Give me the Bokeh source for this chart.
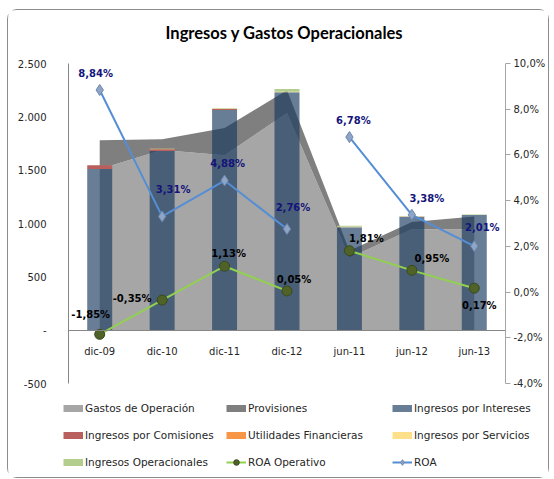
from bokeh.plotting import figure
from bokeh.layouts import column
from bokeh.models import (ColumnDataSource, Range1d, LinearAxis, FixedTicker,
                          Legend, LegendItem, Label)
from bokeh.core.properties import value
from bokeh.embed import file_html
from bokeh.resources import INLINE

# ---------------- data ----------------
categories = ["dic-09", "dic-10", "dic-11", "dic-12", "jun-11", "jun-12", "jun-13"]
gastos_operacion = [1510, 1690, 1640, 2035, 680, 945, 945]
provisiones = [270, 100, 255, 215, 65, 70, 120]
ingresos_intereses = [1510, 1680, 2065, 2230, 965, 1065, 1080]
ingresos_comisiones = [35, 15, 8, 0, 0, 0, 0]
utilidades_financieras = [0, 0, 0, 0, 0, 0, 0]
ingresos_servicios = [0, 5, 5, 5, 5, 5, 0]
ingresos_operacionales = [0, 0, 5, 25, 10, 0, 5]
roa_operativo = [-1.85, -0.35, 1.13, 0.05, 1.81, 0.95, 0.17]
roa = [8.84, 3.31, 4.88, 2.76, 6.78, 3.38, 2.01]
segments = [(0, 4), (4, 7)]  # the two periods (annual / semester) are not joined

left_ticks = [-500, 0, 500, 1000, 1500, 2000, 2500]
left_tick_labels = ["-500", "-", "500", "1.000", "1.500", "2.000", "2.500"]
right_ticks = [-4, -2, 0, 2, 4, 6, 8, 10]
right_tick_labels = ["-4,0%", "-2,0%", "0,0%", "2,0%", "4,0%", "6,0%", "8,0%", "10,0%"]

title_text = "Ingresos y Gastos Operacionales"
FONT = "DejaVu Sans"
TXT = "#262626"

# label offsets (screen px)
roa_dx = [-4, 11, 3, 6, 4, 15, 8]
roa_dy = [-17, -27, -17, -21, -17, -16, -19]
rop_dx = [-9, -30, 4, 7, 17, 20, 5]
rop_dy = [-20, -2, -13, -11, -12, -12, 17]


def pct(v):
    return f"{v:.2f}".replace(".", ",") + "%"


xs = list(range(len(categories)))
n = len(categories)
W = 540

# ---------------- title strip ----------------
tf = figure(width=W, height=40, x_range=Range1d(0, W), y_range=Range1d(0, 40),
            x_axis_type=None, y_axis_type=None,
            min_border_left=0, min_border_right=0, min_border_top=0, min_border_bottom=0,
            output_backend="svg", toolbar_location=None)
tf.outline_line_color = None
tf.grid.visible = False
tf.frame_align = False
tf.add_layout(Label(x=276, y=18, text=title_text, text_align="center", text_baseline="middle",
                    text_font="Lato", text_font_size="16.5px", text_font_style="bold",
                    text_color="#000000"))

# ---------------- main chart ----------------
p = figure(x_range=Range1d(-0.5, n - 0.5), y_range=Range1d(left_ticks[0], left_ticks[-1]),
           width=W, height=342,
           min_border_left=60, min_border_right=42, min_border_top=13, min_border_bottom=9,
           output_backend="svg", toolbar_location=None)
p.frame_align = False
p.extra_y_ranges = {"pct": Range1d(right_ticks[0], right_ticks[-1])}
p.outline_line_color = None
p.grid.visible = False
p.background_fill_color = "white"

src = ColumnDataSource(dict(x=xs, gastos=gastos_operacion, prov=provisiones,
                            intereses=ingresos_intereses, comisiones=ingresos_comisiones,
                            utilidades=utilidades_financieras, servicios=ingresos_servicios,
                            operacionales=ingresos_operacionales))

area_colors = ["#A6A6A6", "#7F7F7F"]
p.varea_stack(["gastos", "prov"], x="x", fill_color=area_colors, source=src)

bar_colors = ["#17375E", "#B9605E", "#F79646", "#FFE08A", "#B3CD8D"]
bar_alpha = [0.65, 1, 1, 1, 1]
p.vbar_stack(["intereses", "comisiones", "utilidades", "servicios", "operacionales"],
             x="x", width=0.4, fill_color=bar_colors, fill_alpha=bar_alpha,
             line_color=None, source=src)

ROA_LINE = "#558ED5"
ROP_LINE = "#92D050"
ROP_M = dict(marker="circle", size=10, fill_color="#4F6228", line_color="#3A4A1B", line_width=1)
ROA_M = dict(marker="diamond", size=11, fill_color="#8EA5C8", line_color="#6C86AA", line_width=1)
for a, b in segments:
    s = ColumnDataSource(dict(x=xs[a:b], roa=roa[a:b], rop=roa_operativo[a:b]))
    p.line("x", "rop", source=s, y_range_name="pct", line_color=ROP_LINE, line_width=2)
    p.line("x", "roa", source=s, y_range_name="pct", line_color=ROA_LINE, line_width=2)

msrc = ColumnDataSource(dict(x=xs, roa=roa, rop=roa_operativo))
p.scatter("x", "rop", source=msrc, y_range_name="pct", **ROP_M)
p.scatter("x", "roa", source=msrc, y_range_name="pct", **ROA_M)

lsrc = ColumnDataSource(dict(x=xs, roa=roa, rop=roa_operativo,
                             roa_t=[pct(v) for v in roa], rop_t=[pct(v) for v in roa_operativo],
                             roa_dx=roa_dx, roa_dy=roa_dy, rop_dx=rop_dx, rop_dy=rop_dy))
p.text("x", "roa", text="roa_t", source=lsrc, y_range_name="pct", x_offset="roa_dx", y_offset="roa_dy",
       text_align="center", text_baseline="middle", text_font=value(FONT), text_font_style="bold",
       text_font_size=value("10px"), text_color="#14147A")
p.text("x", "rop", text="rop_t", source=lsrc, y_range_name="pct", x_offset="rop_dx", y_offset="rop_dy",
       text_align="center", text_baseline="middle", text_font=value(FONT), text_font_style="bold",
       text_font_size=value("10px"), text_color="#000000")

# axes
xa = p.xaxis[0]
xa.fixed_location = 0
xa.ticker = FixedTicker(ticks=xs)
xa.major_label_overrides = dict(zip(xs, categories))
xa.axis_line_color = "#868686"
xa.major_tick_line_color = None
xa.minor_tick_line_color = None
xa.major_label_standoff = 10
xa.major_label_text_font = FONT
xa.major_label_text_font_size = "10px"
xa.major_label_text_color = TXT

ya = p.yaxis[0]
ya.ticker = FixedTicker(ticks=left_ticks)
ya.major_label_overrides = dict(zip(left_ticks, left_tick_labels))
ya.axis_line_color = "#868686"
ya.major_tick_line_color = None
ya.minor_tick_line_color = None
ya.major_label_standoff = 16
ya.major_label_text_font = FONT
ya.major_label_text_font_size = "10px"
ya.major_label_text_color = TXT

ra = LinearAxis(y_range_name="pct", ticker=FixedTicker(ticks=right_ticks))
ra.major_label_overrides = dict(zip(right_ticks, right_tick_labels))
ra.axis_line_color = "#A6A6A6"
ra.major_tick_line_color = "#A6A6A6"
ra.major_tick_out = 5
ra.major_tick_in = 0
ra.minor_tick_line_color = None
ra.major_label_standoff = 3
ra.major_label_text_font = FONT
ra.major_label_text_font_size = "10px"
ra.major_label_text_color = TXT
p.add_layout(ra, "right")

# ---------------- legend strip ----------------
lf = figure(width=W, height=85, x_range=Range1d(0, 1), y_range=Range1d(0, 1),
            x_axis_type=None, y_axis_type=None,
            min_border_left=0, min_border_right=0, min_border_top=0, min_border_bottom=0,
            output_backend="svg", toolbar_location=None)
lf.frame_align = False
lf.outline_line_color = None
lf.grid.visible = False

nan = float("nan")
proxy_src = ColumnDataSource(dict(x=[nan], y=[nan]))
def patch_proxy(color, alpha=1.0):
    return [lf.line("x", "y", source=proxy_src, line_color=color, line_width=7, line_alpha=alpha)]
def line_proxy(color, marker):
    return [lf.line("x", "y", source=proxy_src, line_color=color, line_width=2),
            lf.scatter("x", "y", source=proxy_src, **marker)]

leg_cols = [
    [("Gastos de Operación", patch_proxy(area_colors[0])),
     ("Ingresos por Comisiones", patch_proxy(bar_colors[1])),
     ("Ingresos Operacionales", patch_proxy(bar_colors[4]))],
    [("Provisiones", patch_proxy(area_colors[1])),
     ("Utilidades Financieras", patch_proxy(bar_colors[2])),
     ("ROA Operativo", line_proxy(ROP_LINE, ROP_M))],
    [("Ingresos por Intereses", patch_proxy(bar_colors[0], bar_alpha[0])),
     ("Ingresos por Servicios", patch_proxy(bar_colors[3])),
     ("ROA", line_proxy(ROA_LINE, ROA_M))],
]
leg_x = [55, 218, 384]
for items, x in zip(leg_cols, leg_x):
    lg = Legend(items=[LegendItem(label=t, renderers=r) for t, r in items],
                location=(x, 8.5), orientation="vertical",
                glyph_width=20, glyph_height=14, label_height=14, label_standoff=2,
                spacing=13, padding=0, margin=0, border_line_color=None,
                background_fill_alpha=0, label_text_font=FONT, label_text_font_size="10.5px",
                label_text_color=TXT)
    lf.add_layout(lg, "center")

layout = column(tf, p, lf, spacing=0,
                styles={"border": "1px solid #8C8C8C", "border-radius": "10px",
                        "margin-left": "7px", "margin-top": "9px"})

open("out.html", "w").write(file_html(layout, INLINE))
